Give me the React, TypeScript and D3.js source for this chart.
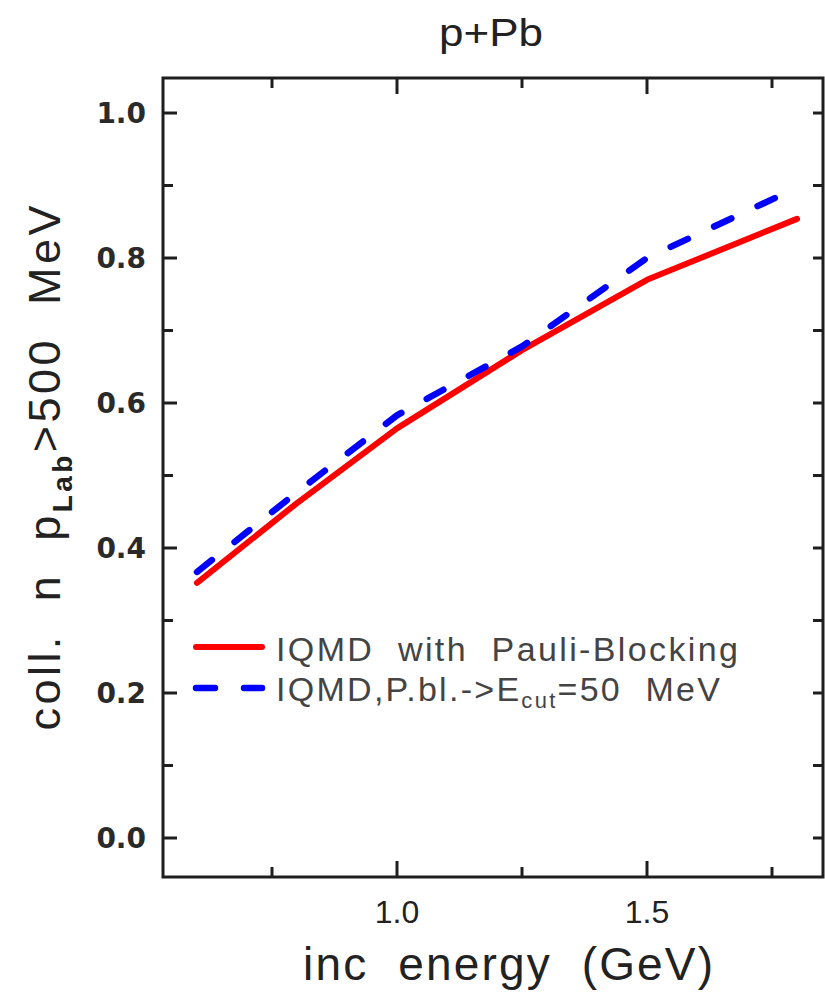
import React from "react";
import * as d3 from "d3";

// incident energy (GeV)
const energies = [0.6, 0.8, 1.0, 1.25, 1.5, 1.8];
// IQMD with Pauli-Blocking
const pauliBlocking = [0.352, 0.462, 0.565, 0.673, 0.77, 0.854];
// IQMD, P.bl. -> Ecut = 50 MeV
const ecut50 = [0.367, 0.477, 0.583, 0.678, 0.8, 0.897];

const yMajorTicks = [0.0, 0.2, 0.4, 0.6, 0.8, 1.0];
const yMinorTicks = [0.1, 0.3, 0.5, 0.7, 0.9];
const xMajorTicks = [1.0, 1.5];
const xMinorTicks = [0.75, 1.25, 1.75];

const W = 825;
const H = 999;
const frame = { left: 163, right: 823, top: 78, bottom: 877 };

const axisColor = "#1e1e1e";
const textColor = "#222";
const pre = { whiteSpace: "pre" as const };

export default function App() {
  const x = d3.scaleLinear().domain([0.532, 1.852]).range([frame.left, frame.right]);
  const y = d3.scaleLinear().domain([-0.0538, 1.0483]).range([frame.bottom, frame.top]);

  const line = d3
    .line<number>()
    .x((_, i) => x(energies[i]))
    .y((d) => y(d));

  return (
    <svg
      width={W}
      height={H}
      style={{ position: "absolute", left: 0, top: 0, background: "#fff" }}
    >
      {/* title */}
      <text
        x={491}
        y={46}
        textAnchor="middle"
        fontFamily="Liberation Sans"
        fontSize={39}
        fill={textColor}
        textLength={104}
        lengthAdjust="spacingAndGlyphs"
      >
        p+Pb
      </text>

      {/* curves */}
      <path
        d={line(pauliBlocking) ?? ""}
        fill="none"
        stroke="#ff0000"
        strokeWidth={6}
        strokeLinecap="round"
        strokeLinejoin="round"
      />
      <path
        d={line(ecut50) ?? ""}
        fill="none"
        stroke="#0000ff"
        strokeWidth={6.5}
        strokeDasharray="19 29"
        strokeLinecap="round"
      />

      {/* frame */}
      <rect
        x={frame.left}
        y={frame.top}
        width={frame.right - frame.left}
        height={frame.bottom - frame.top}
        fill="none"
        stroke={axisColor}
        strokeWidth={3}
      />

      {/* y ticks, left + right */}
      {yMajorTicks.map((t) => (
        <g key={"ym" + t}>
          <line x1={frame.left} x2={frame.left + 14} y1={y(t)} y2={y(t)} stroke={axisColor} strokeWidth={3} />
          <line x1={frame.right} x2={frame.right - 10} y1={y(t)} y2={y(t)} stroke={axisColor} strokeWidth={3} />
          <text
            x={146}
            y={y(t)}
            dy="0.36em"
            textAnchor="end"
            fontFamily="DejaVu Sans"
            fontWeight="bold"
            fontSize={28}
            fill="#2a2a2a"
          >
            {t.toFixed(1)}
          </text>
        </g>
      ))}
      {yMinorTicks.map((t) => (
        <g key={"yn" + t}>
          <line x1={frame.left} x2={frame.left + 10} y1={y(t)} y2={y(t)} stroke={axisColor} strokeWidth={3} />
          <line x1={frame.right} x2={frame.right - 10} y1={y(t)} y2={y(t)} stroke={axisColor} strokeWidth={3} />
        </g>
      ))}

      {/* x ticks, bottom + top */}
      {xMajorTicks.map((t) => (
        <g key={"xm" + t}>
          <line x1={x(t)} x2={x(t)} y1={frame.bottom} y2={frame.bottom - 16} stroke={axisColor} strokeWidth={3} />
          <line x1={x(t)} x2={x(t)} y1={frame.top} y2={frame.top + 16} stroke={axisColor} strokeWidth={3} />
          <text
            x={x(t)}
            y={923}
            textAnchor="middle"
            fontFamily="Liberation Sans"
            fontSize={32}
            fill={textColor}
          >
            {t.toFixed(1)}
          </text>
        </g>
      ))}
      {xMinorTicks.map((t) => (
        <g key={"xn" + t}>
          <line x1={x(t)} x2={x(t)} y1={frame.bottom} y2={frame.bottom - 10} stroke={axisColor} strokeWidth={3} />
          <line x1={x(t)} x2={x(t)} y1={frame.top} y2={frame.top + 10} stroke={axisColor} strokeWidth={3} />
        </g>
      ))}

      {/* axis titles */}
      <text
        x={508}
        y={980}
        textAnchor="middle"
        fontFamily="Liberation Sans"
        fontSize={46}
        fill={textColor}
        textLength={410}
        lengthAdjust="spacing"
        style={pre}
      >
        {"inc  energy  (GeV)"}
      </text>
      <text
        transform="translate(60, 468) rotate(-90)"
        textAnchor="middle"
        fontFamily="Liberation Sans"
        fontSize={45}
        fill={textColor}
        textLength={525}
        lengthAdjust="spacing"
        style={pre}
      >
        {"coll.  n  p"}
        <tspan fontSize={28} fontWeight="bold" dy={12}>Lab</tspan>
        <tspan dy={-12}>{">500  MeV"}</tspan>
      </text>

      {/* legend */}
      <line x1={196} x2={262} y1={647} y2={647} stroke="#ff0000" strokeWidth={6} strokeLinecap="round" />
      <text
        x={276}
        y={661}
        fontFamily="Liberation Sans"
        fontSize={34}
        fill="#444"
        textLength={462}
        lengthAdjust="spacing"
        style={pre}
      >
        {"IQMD  with  Pauli-Blocking"}
      </text>
      <line
        x1={196}
        x2={262}
        y1={688}
        y2={688}
        stroke="#0000ff"
        strokeWidth={6.5}
        strokeDasharray="19 29"
        strokeLinecap="round"
      />
      <text
        x={276}
        y={701}
        fontFamily="Liberation Sans"
        fontSize={34}
        fill="#444"
        textLength={444}
        lengthAdjust="spacing"
        style={pre}
      >
        {"IQMD,P.bl.->E"}
        <tspan fontSize={22} dy={7}>cut</tspan>
        <tspan dy={-7}>{"=50  MeV"}</tspan>
      </text>
    </svg>
  );
}
